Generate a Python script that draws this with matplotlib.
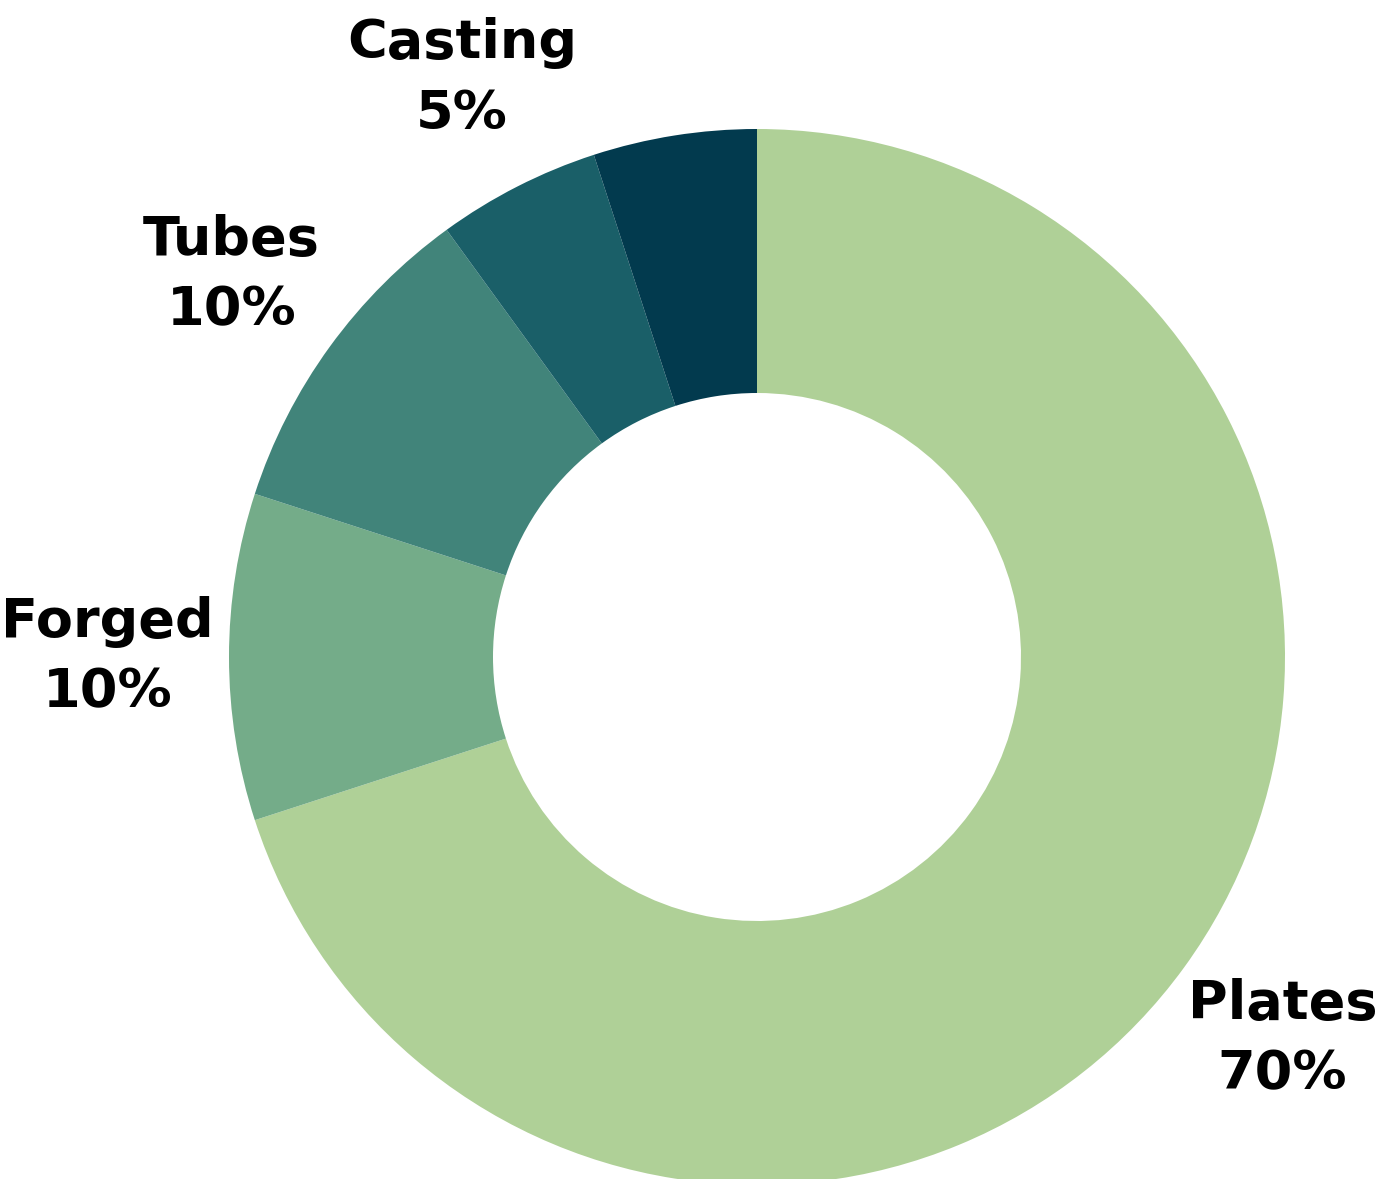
import matplotlib.pyplot as plt

# shares, clockwise from the top
labels = ["Plates", "Forged", "Tubes", "Casting", ""]
values = [70, 10, 10, 5, 5]
colors = ["#AFD097", "#74AC89", "#41847A", "#1A5F68", "#023A4E"]

W, H, dpi = 1384, 1179, 100
fig = plt.figure(figsize=(W / dpi, H / dpi), dpi=dpi)
ax = fig.add_axes([0, 0, 1, 1])

wedges, texts = ax.pie(values, colors=colors, startangle=90, counterclock=False,
                       radius=1.0, wedgeprops=dict(width=0.5, linewidth=0),
                       labels=[f"{l}\n{v}%" if l else "" for l, v in zip(labels, values)],
                       labeldistance=1.23)
for t in texts:
    t.set_ha("center")
    t.set_va("center")
    t.set_fontsize(39)
    t.set_fontweight("bold")
    t.set_family("DejaVu Sans")
    t.set_linespacing(1.45)

# centre at (757, 657) px, outer radius 528 px
cx, cy, r = 757, 657, 528
ax.set_xlim(-cx / r, (W - cx) / r)
ax.set_ylim(-(H - cy) / r, cy / r)
ax.axis("off")

fig.savefig("out.png", dpi=dpi)
